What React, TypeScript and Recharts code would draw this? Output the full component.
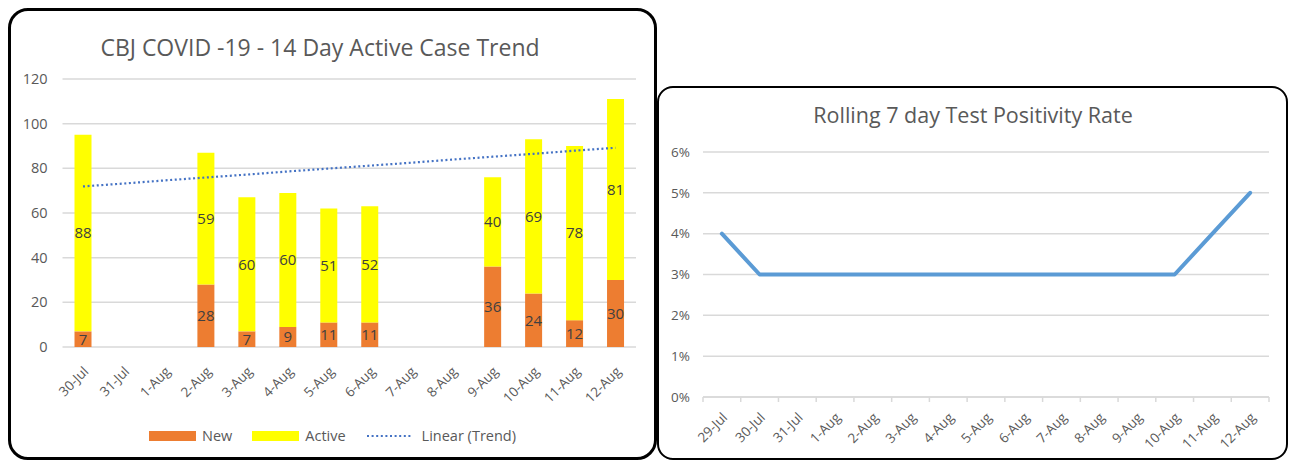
import React from "react";
import {
  ComposedChart,
  Bar,
  Line,
  XAxis,
  YAxis,
  CartesianGrid,
  Legend,
  LabelList,
} from "recharts";

const CASE_DATES = ["30-Jul", "31-Jul", "1-Aug", "2-Aug", "3-Aug", "4-Aug", "5-Aug", "6-Aug", "7-Aug", "8-Aug", "9-Aug", "10-Aug", "11-Aug", "12-Aug"];
const NEW_CASES = [7, null, null, 28, 7, 9, 11, 11, null, null, 36, 24, 12, 30];
const ACTIVE_CASES = [88, null, null, 59, 60, 60, 51, 52, null, null, 40, 69, 78, 81];
const TREND = [71.9, 73.2, 74.6, 75.9, 77.2, 78.6, 79.9, 81.2, 82.5, 83.9, 85.2, 86.5, 87.9, 89.2];
const CASE_TICKS = [0, 20, 40, 60, 80, 100, 120];
const LEGEND_ORDER = ["New", "Active", "Linear (Trend)"];

const RATE_DATES = ["29-Jul", "30-Jul", "31-Jul", "1-Aug", "2-Aug", "3-Aug", "4-Aug", "5-Aug", "6-Aug", "7-Aug", "8-Aug", "9-Aug", "10-Aug", "11-Aug", "12-Aug"];
const POSITIVITY = [0.04, 0.03, 0.03, 0.03, 0.03, 0.03, 0.03, 0.03, 0.03, 0.03, 0.03, 0.03, 0.03, 0.04, 0.05];
const RATE_TICKS = [0, 0.01, 0.02, 0.03, 0.04, 0.05, 0.06];

const FONT = "'Open Sans', sans-serif";
const GREY = "#595959";
const GRID = "#d9d9d9";

const caseData = CASE_DATES.map((d, i) => ({
  date: d,
  newCases: NEW_CASES[i],
  active: ACTIVE_CASES[i],
  trend: TREND[i],
}));

const rateData = RATE_DATES.map((d, i) => ({date: d, rate: POSITIVITY[i]}));

// right chart plot width / categories: half a band of padding so points sit mid-category,
// tick marks go between categories like Excel
const RATE_BAND = 566 / RATE_DATES.length;

const RotatedTick = (props: any) => {
  const {x, y, payload} = props;
  return (
    <text
      transform={`translate(${x + 3},${y + 22}) rotate(-45)`}
      textAnchor="end"
      dy="0.35em"
      fill={GREY}
      fontSize={13.5}
      fontFamily={FONT}
    >
      {payload.value}
    </text>
  );
};

const BoundaryTick = (props: any) => {
  const {x, y, payload, index} = props;
  const half = RATE_BAND / 2;
  const last = index === RATE_DATES.length - 1;
  return (
    <g>
      <line x1={x - half} x2={x - half} y1={y} y2={y + 5} stroke={GRID} strokeWidth={1.5}/>
      {last && <line x1={x + half} x2={x + half} y1={y} y2={y + 5} stroke={GRID} strokeWidth={1.5}/>}
      <text
        transform={`translate(${x + 3},${y + 18}) rotate(-45)`}
        textAnchor="end"
        dy="0.35em"
        fill={GREY}
        fontSize={13.5}
        fontFamily={FONT}
      >
        {payload.value}
      </text>
    </g>
  );
};

const CaseLegend = (props: any) => {
  const payload = [...(props.payload || [])].sort(
    (a: any, b: any) => LEGEND_ORDER.indexOf(a.value) - LEGEND_ORDER.indexOf(b.value)
  );
  return (
    <div style={{display: "flex", justifyContent: "center", alignItems: "center", fontFamily: FONT, fontSize: 14.5, color: GREY}}>
      {payload.map((entry: any) => (
        <div key={entry.value} style={{display: "flex", alignItems: "center", margin: "0 10px"}}>
          {entry.type === "line" ? (
            <svg width={47} height={10} style={{marginRight: 9}}>
              <line x1={1} x2={46} y1={5} y2={5} stroke={entry.color} strokeWidth={2.2} strokeDasharray="2 2.6"/>
            </svg>
          ) : (
            <div style={{width: 47, height: 10, background: entry.color, marginRight: 6}}/>
          )}
          <span>{entry.value}</span>
        </div>
      ))}
    </div>
  );
};

const hideEmpty = (v: any) => (v == null ? "" : v);

const App = () => {
  return (
    <div style={{position: "fixed", left: 0, top: 0, width: 1289, height: 460, background: "#fff", overflow: "hidden"}}>
      {/* left panel */}
      <div style={{position: "absolute", left: 0, top: 31, width: 640, textAlign: "center", fontFamily: FONT, fontSize: 23, color: GREY}}>
        CBJ COVID -19 - 14 Day Active Case Trend
      </div>
      <div style={{position: "absolute", left: 8, top: 8}}>
        <ComposedChart width={649} height={451} data={caseData} margin={{top: 71, right: 21, left: 14.5, bottom: 52}}>
          <CartesianGrid vertical={false} stroke={GRID} strokeWidth={1.5}/>
          <XAxis dataKey="date" axisLine={false} tickLine={false} tickSize={0} tickMargin={0} height={60} interval={0} tick={<RotatedTick/>}/>
          <YAxis
            domain={[0, 120]}
            ticks={CASE_TICKS}
            width={40}
            axisLine={false}
            tickLine={false}
            tickSize={0}
            tickMargin={15}
            tick={{fill: GREY, fontSize: 14.5, fontFamily: FONT}}
          />
          <Bar dataKey="newCases" name="New" stackId="a" fill="#ED7D31" barSize={17} isAnimationActive={false}>
            <LabelList dataKey="newCases" position="center" fill="#404040" fontSize={15} fontFamily={FONT} formatter={hideEmpty}/>
          </Bar>
          <Bar dataKey="active" name="Active" stackId="a" fill="#FFFF00" barSize={17} isAnimationActive={false}>
            <LabelList dataKey="active" position="center" fill="#404040" fontSize={15} fontFamily={FONT} formatter={hideEmpty}/>
          </Bar>
          <Line
            dataKey="trend"
            name="Linear (Trend)"
            type="linear"
            stroke="#4472C4"
            strokeWidth={2.2}
            strokeDasharray="2 2.6"
            dot={false}
            activeDot={false}
            legendType="line"
            isAnimationActive={false}
          />
          <Legend
            layout="horizontal"
            verticalAlign="middle"
            align="center"
            content={<CaseLegend/>}
            wrapperStyle={{top: 418, left: 0, width: 649}}
          />
        </ComposedChart>
      </div>
      <div style={{position: "absolute", left: 8, top: 8, width: 649, height: 452, boxSizing: "border-box", border: "3.5px solid #000", borderRadius: 20, pointerEvents: "none"}}/>

      {/* right panel */}
      <div style={{position: "absolute", left: 657, top: 100, width: 632, textAlign: "center", fontFamily: FONT, fontSize: 21.5, color: GREY}}>
        Rolling 7 day Test Positivity Rate
      </div>
      <div style={{position: "absolute", left: 657, top: 86}}>
        <ComposedChart width={632} height={374} data={rateData} margin={{top: 66, right: 20, left: 10, bottom: 0}}>
          <CartesianGrid vertical={false} stroke={GRID} strokeWidth={1.5}/>
          <XAxis
            dataKey="date"
            axisLine={{stroke: GRID, strokeWidth: 1.5}}
            tickLine={false}
            tickSize={0}
            tickMargin={0}
            height={63}
            interval={0}
            padding={{left: RATE_BAND / 2, right: RATE_BAND / 2}}
            tick={<BoundaryTick/>}
          />
          <YAxis
            domain={[0, 0.06]}
            ticks={RATE_TICKS}
            width={36}
            axisLine={false}
            tickLine={false}
            tickSize={0}
            tickMargin={13}
            tickFormatter={(v: number) => `${Math.round(v * 100)}%`}
            tick={{fill: GREY, fontSize: 13.5, fontFamily: FONT}}
          />
          <Line
            dataKey="rate"
            type="linear"
            stroke="#5B9BD5"
            strokeWidth={4}
            strokeLinecap="round"
            strokeLinejoin="round"
            dot={false}
            activeDot={false}
            isAnimationActive={false}
          />
        </ComposedChart>
      </div>
      <div style={{position: "absolute", left: 657, top: 86, width: 631, height: 374, boxSizing: "border-box", border: "2px solid #000", borderRadius: 16, pointerEvents: "none"}}/>
    </div>
  );
};

export default App;
